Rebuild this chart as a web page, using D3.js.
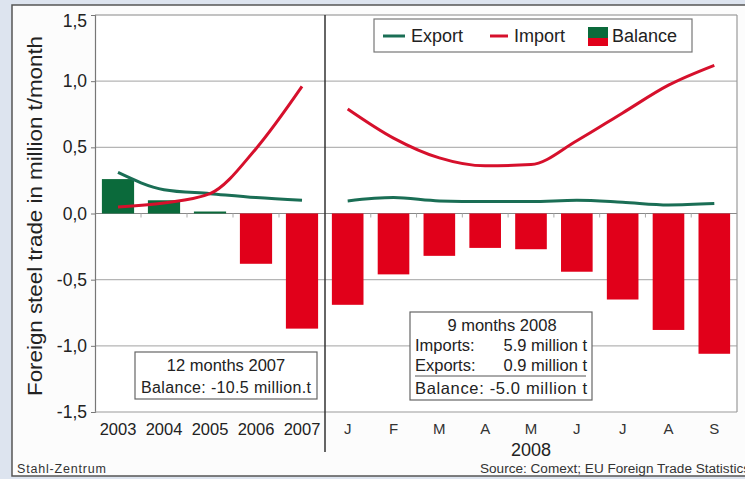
<!DOCTYPE html>
<html>
<head>
<meta charset="utf-8">
<script src="https://cdn.jsdelivr.net/npm/d3@7"></script>
<style>
  html, body { margin: 0; padding: 0; background: #dde4ef; }
  svg { display: block; font-family: "Liberation Sans", Arial, sans-serif; }
</style>
</head>
<body>
<script>
// ---------- data ----------
const years = ["2003", "2004", "2005", "2006", "2007"];
const months = ["J", "F", "M", "A", "M", "J", "J", "A", "S"];
const exportYears = [0.31, 0.18, 0.15, 0.12, 0.10];
const importYears = [0.05, 0.08, 0.15, 0.49, 0.96];
const balanceYears = [0.26, 0.10, 0.015, -0.38, -0.87];
const exportMonths = [0.095, 0.12, 0.095, 0.09, 0.09, 0.10, 0.085, 0.065, 0.075];
const importMonths = [0.79, 0.57, 0.42, 0.36, 0.37, 0.55, 0.76, 0.97, 1.12];
const balanceMonths = [-0.69, -0.46, -0.32, -0.26, -0.27, -0.44, -0.65, -0.88, -1.06];
const yTicks = [1.5, 1.0, 0.5, 0.0, -0.5, -1.0, -1.5];
const yearLabel = "2008";
const legendItems = ["Export", "Import", "Balance"];

// ---------- layout ----------
const W = 745, H = 479;
const plot = { left: 95, right: 737, top: 15, bottom: 412, split: 325 };
const GREEN = "#0b6a3b", GREEN_LINE = "#1a6e55", RED = "#e1001a", RED_LINE = "#d6102c";

const svg = d3.select("body").append("svg").attr("width", W).attr("height", H);

// panel
svg.append("rect").attr("x", 12).attr("y", 5).attr("width", W).attr("height", 471)
  .attr("fill", "#fcfcfc").attr("stroke", "#555").attr("stroke-width", 1.5);

const y = d3.scaleLinear().domain([-1.5, 1.5]).range([plot.bottom, plot.top]);
const xL = d3.scaleBand().domain(d3.range(years.length)).range([plot.left, plot.split]).paddingInner(0.3).paddingOuter(0.15);
const xR = d3.scaleBand().domain(d3.range(months.length)).range([plot.split, plot.right]).paddingInner(0.31).paddingOuter(0.15);

// plot background
svg.append("rect").attr("x", plot.left).attr("y", plot.top)
  .attr("width", plot.right - plot.left).attr("height", plot.bottom - plot.top).attr("fill", "#fff");

// gridlines
svg.append("g").selectAll("line").data(yTicks.filter(d => d !== 1.5 && d !== -1.5)).join("line")
  .attr("x1", plot.left).attr("x2", plot.right)
  .attr("y1", d => y(d)).attr("y2", d => y(d))
  .attr("stroke", d => d === 0 ? "#888" : "#b5b5b5").attr("stroke-width", 1.2);

// y axis via d3 axis
const yAxis = svg.append("g").attr("transform", `translate(${plot.left},0)`)
  .call(d3.axisLeft(y).tickValues(yTicks).tickSize(4).tickPadding(4)
    .tickFormat(d => d3.format(".1f")(d).replace(".", ",").replace("−", "-")));
yAxis.select(".domain").attr("stroke", "#777").attr("stroke-width", 1.2);
yAxis.selectAll(".tick line").attr("stroke", "#777");
yAxis.selectAll(".tick text").attr("font-size", 17.5).attr("fill", "#222")
  .attr("font-family", "'Liberation Sans', Arial, sans-serif");
yAxis.selectAll(".tick").filter(d => d === 1.5).select("text").attr("dy", "0.65em");

// frame top/right/bottom
svg.append("line").attr("x1", plot.left).attr("x2", plot.right).attr("y1", plot.top).attr("y2", plot.top).attr("stroke", "#888").attr("stroke-width", 1.2);
svg.append("line").attr("x1", plot.right).attr("x2", plot.right).attr("y1", plot.top).attr("y2", plot.bottom).attr("stroke", "#999").attr("stroke-width", 1.2);
svg.append("line").attr("x1", plot.left).attr("x2", plot.right).attr("y1", plot.bottom).attr("y2", plot.bottom).attr("stroke", "#999").attr("stroke-width", 1.2);

// small ticks on zero line at band boundaries
const bL = years.map((d, i) => plot.left + (i + 1) * (plot.split - plot.left) / years.length).slice(0, -1);
const bR = months.map((d, i) => plot.split + (i + 1) * (plot.right - plot.split) / months.length).slice(0, -1);
svg.append("g").selectAll("line").data(bL.concat(bR)).join("line")
  .attr("x1", d => d).attr("x2", d => d).attr("y1", y(0)).attr("y2", y(0) + 4)
  .attr("stroke", "#aaa");

// bars
function bars(data, x) {
  svg.append("g").selectAll("rect").data(data).join("rect")
    .attr("x", (d, i) => x(i)).attr("width", x.bandwidth())
    .attr("y", d => y(Math.max(0, d))).attr("height", d => Math.abs(y(d) - y(0)))
    .attr("fill", d => d >= 0 ? GREEN : RED);
}
bars(balanceYears, xL);
bars(balanceMonths, xR);

// lines
function series(data, x, color) {
  const line = d3.line().x((d, i) => x(i) + x.bandwidth() / 2).y(d => y(d)).curve(d3.curveMonotoneX);
  svg.append("path").attr("d", line(data)).attr("fill", "none")
    .attr("stroke", color).attr("stroke-width", 3).attr("stroke-linecap", "butt");
}
series(exportYears, xL, GREEN_LINE);
series(importYears, xL, RED_LINE);
series(exportMonths, xR, GREEN_LINE);
series(importMonths, xR, RED_LINE);

// divider
svg.append("line").attr("x1", plot.split).attr("x2", plot.split).attr("y1", plot.top).attr("y2", 452)
  .attr("stroke", "#333").attr("stroke-width", 1.5);

// x labels
svg.append("g").selectAll("text").data(years).join("text")
  .attr("x", (d, i) => xL(i) + xL.bandwidth() / 2).attr("y", 429).attr("dy", "0.35em")
  .attr("text-anchor", "middle").attr("font-size", 16.5).attr("fill", "#222").text(d => d);
svg.append("g").selectAll("text").data(months).join("text")
  .attr("x", (d, i) => xR(i) + xR.bandwidth() / 2).attr("y", 429).attr("dy", "0.35em")
  .attr("text-anchor", "middle").attr("font-size", 15).attr("fill", "#333").text(d => d);
svg.append("text").attr("x", (xR(4) + xR.bandwidth() / 2)).attr("y", 450).attr("dy", "0.35em")
  .attr("text-anchor", "middle").attr("font-size", 18).attr("fill", "#222").text(yearLabel);

// y axis title
svg.append("text").attr("transform", "translate(42,216) rotate(-90)")
  .attr("text-anchor", "middle").attr("font-size", 20).attr("fill", "#222")
  .attr("textLength", 360).attr("lengthAdjust", "spacingAndGlyphs")
  .text("Foreign steel trade in million t/month");

// legend
const lg = svg.append("g");
lg.append("rect").attr("x", 374).attr("y", 19).attr("width", 318).attr("height", 33)
  .attr("fill", "#fff").attr("stroke", "#777").attr("stroke-width", 1.2);
lg.append("line").attr("x1", 383).attr("x2", 405).attr("y1", 36).attr("y2", 36).attr("stroke", GREEN_LINE).attr("stroke-width", 3);
lg.append("text").attr("x", 411).attr("y", 36).attr("dy", "0.35em").attr("font-size", 18).attr("fill", "#222").text(legendItems[0]);
lg.append("line").attr("x1", 490).attr("x2", 508).attr("y1", 36).attr("y2", 36).attr("stroke", RED_LINE).attr("stroke-width", 3);
lg.append("text").attr("x", 514).attr("y", 36).attr("dy", "0.35em").attr("font-size", 18).attr("fill", "#222").text(legendItems[1]);
lg.append("rect").attr("x", 588).attr("y", 27).attr("width", 20).attr("height", 11).attr("fill", GREEN);
lg.append("rect").attr("x", 588).attr("y", 38).attr("width", 20).attr("height", 8).attr("fill", RED);
lg.append("text").attr("x", 612).attr("y", 36).attr("dy", "0.35em").attr("font-size", 18).attr("fill", "#222").text(legendItems[2]);

// info box left
const b1 = svg.append("g");
b1.append("rect").attr("x", 135).attr("y", 352).attr("width", 182).attr("height", 47)
  .attr("fill", "#fff").attr("stroke", "#666").attr("stroke-width", 1.2);
b1.append("text").attr("x", 226).attr("y", 365).attr("dy", "0.35em").attr("text-anchor", "middle")
  .attr("font-size", 16.5).attr("fill", "#222").text("12 months 2007");
b1.append("text").attr("x", 226).attr("y", 387).attr("dy", "0.35em").attr("text-anchor", "middle")
  .attr("font-size", 16).attr("fill", "#222").attr("textLength", 170).text("Balance: -10.5 million.t");

// info box right
const b2 = svg.append("g");
b2.append("rect").attr("x", 410).attr("y", 312).attr("width", 182).attr("height", 88)
  .attr("fill", "#fff").attr("stroke", "#666").attr("stroke-width", 1.2);
b2.append("text").attr("x", 502).attr("y", 325).attr("dy", "0.35em").attr("text-anchor", "middle")
  .attr("font-size", 16.5).attr("fill", "#222").text("9 months 2008");
[["Imports:", "5.9 million t", 345], ["Exports:", "0.9 million t", 365]].forEach(r => {
  b2.append("text").attr("x", 415).attr("y", r[2]).attr("dy", "0.35em").attr("font-size", 16.5).attr("fill", "#222").text(r[0]);
  b2.append("text").attr("x", 587).attr("y", r[2]).attr("dy", "0.35em").attr("text-anchor", "end").attr("font-size", 16.5).attr("fill", "#222").text(r[1]);
});
b2.append("line").attr("x1", 415).attr("x2", 586).attr("y1", 376).attr("y2", 376).attr("stroke", "#555").attr("stroke-width", 1);
b2.append("text").attr("x", 415).attr("y", 388).attr("dy", "0.35em").attr("font-size", 16.5).attr("fill", "#222")
  .attr("textLength", 172).text("Balance: -5.0 million t");

// footer
svg.append("text").attr("x", 17).attr("y", 469).attr("dy", "0.35em").attr("font-size", 12.5)
  .attr("fill", "#333").attr("textLength", 89).text("Stahl-Zentrum");
svg.append("text").attr("x", 480).attr("y", 469).attr("dy", "0.35em").attr("font-size", 12.5)
  .attr("fill", "#333").attr("textLength", 270).attr("lengthAdjust", "spacingAndGlyphs")
  .text("Source: Comext; EU Foreign Trade Statistics");
</script>
</body>
</html>
